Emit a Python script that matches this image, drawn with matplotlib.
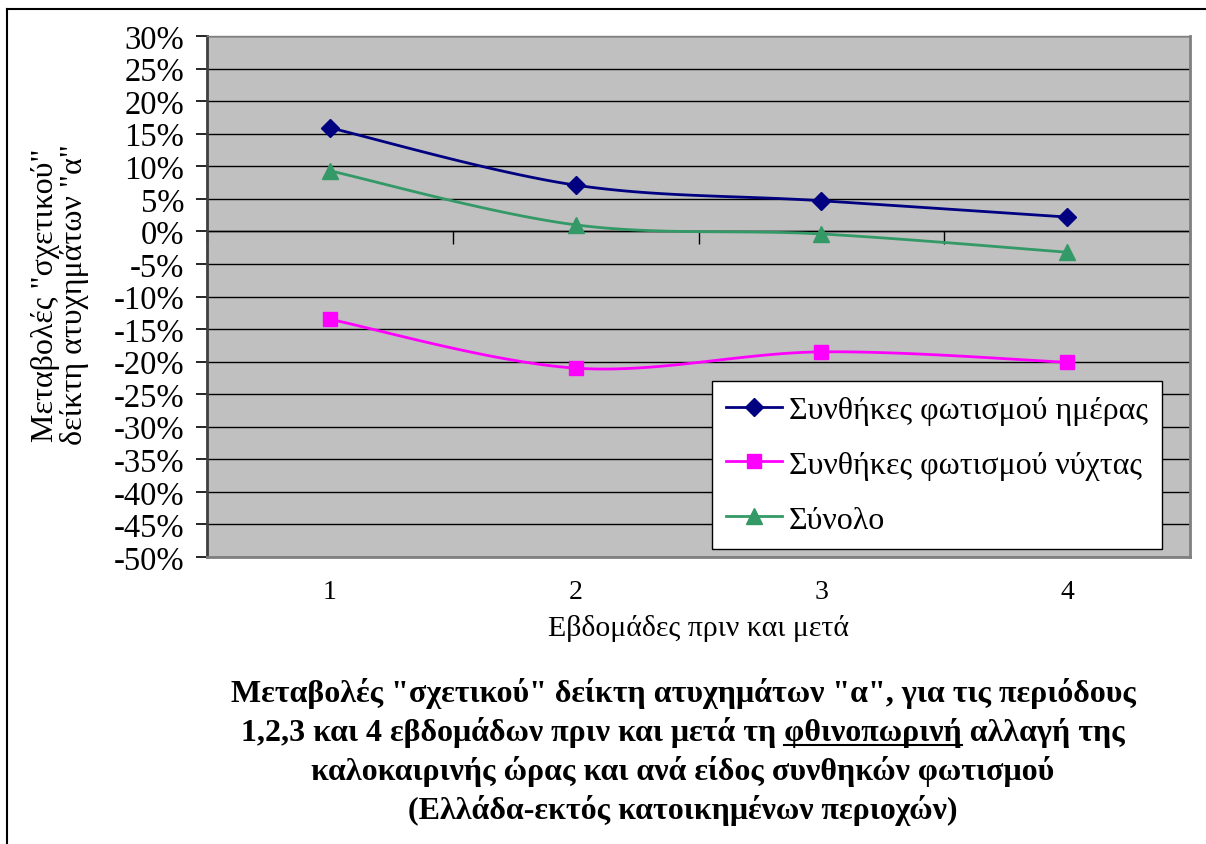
import numpy as np
import matplotlib
matplotlib.use("Agg")
import matplotlib.pyplot as plt
from matplotlib.lines import Line2D
from matplotlib.ticker import FuncFormatter, MultipleLocator

plt.rcParams['font.family'] = ['Liberation Serif', 'DejaVu Serif']

# Δεδομένα
weeks = [1, 2, 3, 4]
day = [15.9, 7.1, 4.7, 2.2]
night = [-13.5, -21.0, -18.5, -20.1]
total = [9.3, 1.0, -0.4, -3.2]
labels = ["Συνθήκες φωτισμού ημέρας", "Συνθήκες φωτισμού νύχτας", "Σύνολο"]
title_lines = [
    'Μεταβολές "σχετικού" δείκτη ατυχημάτων "α", για τις περιόδους',
    '1,2,3 και 4 εβδομάδων πριν και μετά τη φθινοπωρινή αλλαγή της',
    'καλοκαιρινής ώρας και ανά είδος συνθηκών φωτισμού',
    '(Ελλάδα-εκτός κατοικημένων περιοχών)',
]
underlined = "φθινοπωρινή"


def smooth(x, y, n=30):
    # καμπύλη τύπου Excel (Bezier με σημεία ελέγχου Catmull-Rom)
    p = np.column_stack([x, y]).astype(float)
    p_ext = np.vstack([p[0], p, p[-1]])
    out = [p[0]]
    t = np.linspace(0, 1, n)[1:, None]
    for i in range(len(p) - 1):
        p0, p1 = p_ext[i + 1], p_ext[i + 2]
        c1 = p0 + (p_ext[i + 2] - p_ext[i]) / 6
        c2 = p1 - (p_ext[i + 3] - p_ext[i + 1]) / 6
        seg = ((1 - t) ** 3) * p0 + 3 * ((1 - t) ** 2) * t * c1 + 3 * (1 - t) * t ** 2 * c2 + t ** 3 * p1
        out.extend(seg)
    out = np.array(out)
    return out[:, 0], out[:, 1]


fig = plt.figure(figsize=(12.06, 8.45), dpi=100)
W, H = 1206, 845
ax = fig.add_axes([207 / W, 1 - 558 / H, (1190 - 207) / W, (558 - 37) / H])
ax.set_facecolor('#C0C0C0')

series = [
    (day, '#000080', 'D', 9),
    (night, '#FF00FF', 's', 10),
    (total, '#339966', '^', 11),
]
handles = []
for (vals, col, mk, ms), lab in zip(series, labels):
    sx, sy = smooth(weeks, vals)
    ax.plot(sx, sy, color=col, lw=2, zorder=3)
    ax.plot(weeks, vals, ls='none', marker=mk, ms=ms, color=col, zorder=4)
    handles.append(Line2D([], [], color=col, lw=2, marker=mk, ms=ms))

ax.set_xlim(0.5, 4.5)
ax.set_ylim(-50, 30)
ax.yaxis.set_major_locator(MultipleLocator(5))
ax.yaxis.set_major_formatter(FuncFormatter(lambda v, p: f"{v:.0f}%"))
ax.grid(axis='y', color='black', lw=1)
ax.set_axisbelow(True)
ax.set_xticks(weeks)
ax.tick_params(axis='x', length=0, pad=16, labelsize=20)
ax.tick_params(axis='y', direction='out', length=8, width=1.2, pad=8.5, labelsize=23.5)
for s in ax.spines.values():
    s.set_color('#808080')
    s.set_linewidth(2)
ax.spines['left'].set_color('#404040')
ax.spines['top'].set_linewidth(1)

# άξονας στο 0% με σημάδια ανάμεσα στις κατηγορίες
zero = ax.secondary_xaxis((0 + 50) / 80)
zero.set_xticks([0.5, 1.5, 2.5, 3.5, 4.5])
zero.tick_params(direction='in', length=9, width=1, labelbottom=False, labeltop=False)
for s in zero.spines.values():
    s.set_color('black')
    s.set_linewidth(1)

ax.set_xlabel("Εβδομάδες πριν και μετά", fontsize=21.5, labelpad=7)
fig.text(60 / W, 1 - 295 / H, 'Μεταβολές "σχετικού"\nδείκτη ατυχημάτων "α"',
         rotation=90, ha='center', va='center', fontsize=23, linespacing=1.0)

leg = ax.legend(handles, labels, loc='upper left',
                bbox_to_anchor=(712 / W, 1 - 382 / H), bbox_transform=fig.transFigure,
                fontsize=23, frameon=True, fancybox=False, framealpha=1,
                edgecolor='black', handlelength=1.75, handletextpad=0.2,
                labelspacing=0.8, borderpad=0.45, borderaxespad=0)
leg.get_frame().set_linewidth(1)

# τίτλος
ys = [694, 733, 772, 811]
fig.canvas.draw()
renderer = fig.canvas.get_renderer()
fs_title = 23
for line, y in zip(title_lines, ys):
    t = fig.text(683 / W, 1 - y / H, line, ha='center', va='center',
                 fontsize=fs_title, fontweight='bold')
    if underlined in line:
        bb = t.get_window_extent(renderer)
        pre = line[:line.index(underlined) + len(underlined)]
        tmp = fig.text(0, 0, pre, fontsize=fs_title, fontweight='bold')
        w_pre = tmp.get_window_extent(renderer).width
        tmp.remove()
        tmp = fig.text(0, 0, underlined, fontsize=fs_title, fontweight='bold')
        w_word = tmp.get_window_extent(renderer).width
        tmp.remove()
        x1 = bb.x0 + w_pre
        x0 = x1 - w_word
        yl = bb.y0 + 3
        fig.add_artist(Line2D([x0 / W, x1 / W], [yl / H, yl / H], color='black', lw=1.5,
                              transform=fig.transFigure))

# πλαίσιο γραφήματος
fig.add_artist(Line2D([7 / W, 7 / W], [0, 1 - 10 / H], color='black', lw=1.5))
fig.add_artist(Line2D([7 / W, 1], [1 - 10 / H, 1 - 10 / H], color='black', lw=1.5))

fig.savefig("out.png", dpi=100)
